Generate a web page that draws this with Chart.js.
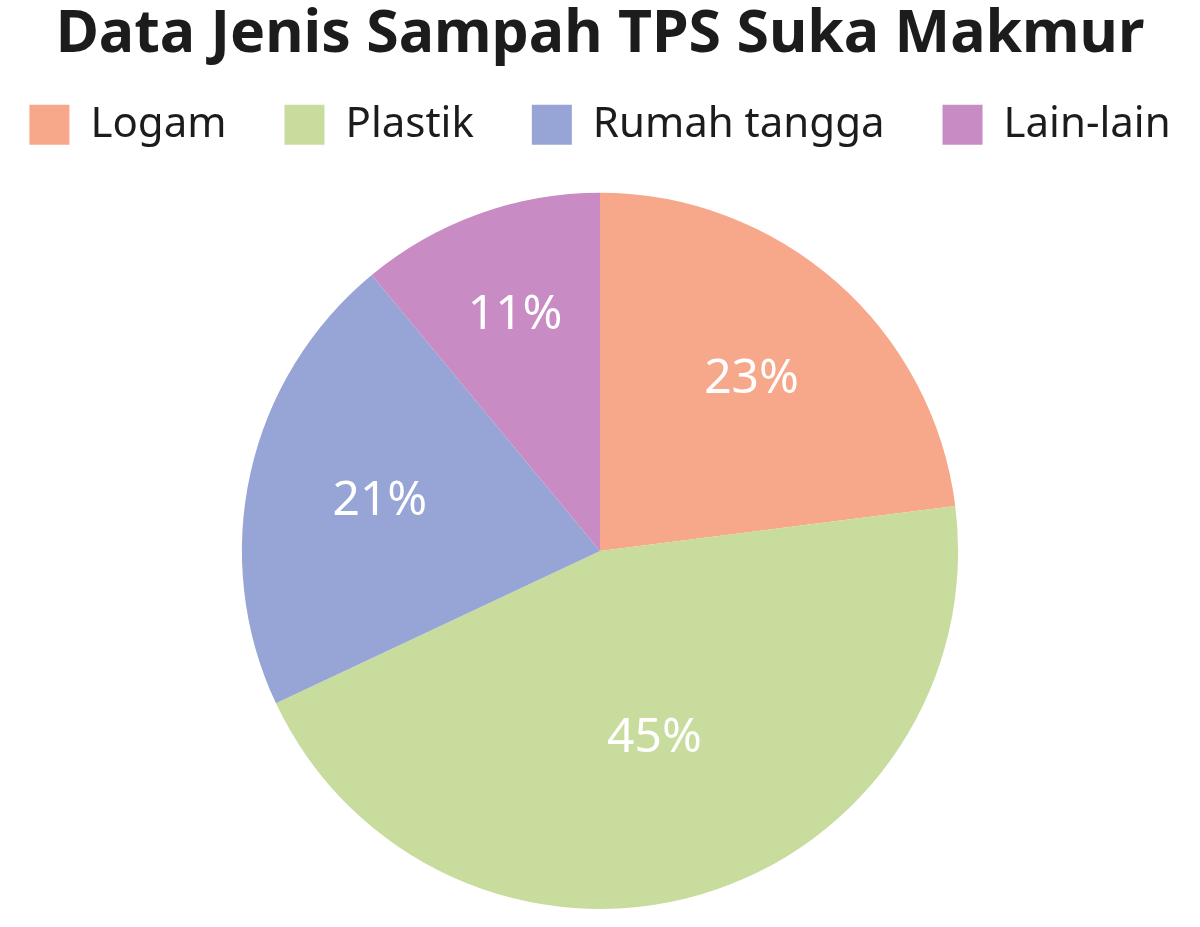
<!DOCTYPE html>
<html>
<head>
<meta charset="utf-8">
<script src="https://cdn.jsdelivr.net/npm/chart.js@4"></script>
<style>
  html, body { margin: 0; padding: 0; background: #fff; }
  #wrap { width: 1200px; height: 927px; }
</style>
</head>
<body>
<div id="wrap"><canvas id="sampah"></canvas></div>
<script>
const categories = ['Logam', 'Plastik', 'Rumah tangga', 'Lain-lain'];
const percentages = [23, 45, 21, 11];
const sliceColors = ['#F7A88A', '#C8DC9E', '#96A5D6', '#C88BC3'];

// how far out each percentage sits, as a part of the radius
const labelDistance = [0.64, 0.545, 0.63, 0.70];

const pieLabels = {
    id: 'pieLabels',
    afterDatasetsDraw(chart) {
        const ctx = chart.ctx;
        const arcs = chart.getDatasetMeta(0).data;
        ctx.save();
        ctx.fillStyle = '#ffffff';
        ctx.font = '48px "Noto Sans"';
        ctx.textAlign = 'center';
        ctx.textBaseline = 'middle';
        arcs.forEach((arc, i) => {
            const p = arc.getProps(['x', 'y', 'startAngle', 'endAngle', 'outerRadius'], true);
            const mid = (p.startAngle + p.endAngle) / 2;
            const r = p.outerRadius * labelDistance[i];
            ctx.fillText(percentages[i] + '%', p.x + Math.cos(mid) * r, p.y + Math.sin(mid) * r);
        });
        ctx.restore();
    }
};

// keep the legend on one row and leave room between it and the pie
const legendGap = {
    id: 'legendGap',
    beforeInit(chart) {
        const legend = chart.legend;
        const fit = legend.fit;
        const draw = legend.draw;
        legend.fit = function () {
            const mw = this.maxWidth;
            this.maxWidth = mw + 200;
            fit.call(this);
            this.maxWidth = mw;
            this.height += 37;
        };
        legend.draw = function () {
            this.left -= 100;
            this.right += 100;
            draw.call(this);
            this.left += 100;
            this.right -= 100;
        };
    }
};

new Chart(document.getElementById('sampah'), {
    type: 'pie',
    data: {
        labels: categories,
        datasets: [{
            data: percentages,
            backgroundColor: sliceColors,
            borderWidth: 0
        }]
    },
    options: {
        responsive: true,
        maintainAspectRatio: false,
        animation: false,
        layout: { padding: { top: 0, bottom: 18 } },
        plugins: {
            title: {
                display: true,
                text: 'Data Jenis Sampah TPS Suka Makmur',
                color: '#1c1c1c',
                font: { family: '"Noto Sans"', size: 59, weight: 'bold' },
                padding: { top: 0, bottom: -25 }
            },
            legend: {
                position: 'top',
                labels: {
                    color: '#1c1c1c',
                    font: { family: '"Noto Sans"', size: 42 },
                    boxWidth: 40,
                    boxHeight: 40,
                    padding: 58
                }
            },
            tooltip: { enabled: false }
        }
    },
    plugins: [legendGap, pieLabels]
});
</script>
</body>
</html>
